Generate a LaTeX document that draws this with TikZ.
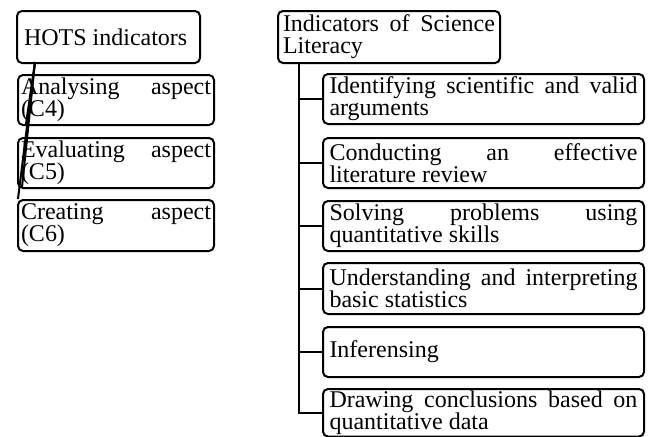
\documentclass[tikz,border=0pt]{standalone}
\usepackage{fontspec}
\setmainfont{Liberation Serif}
\tikzset{
  box/.style={draw, rounded corners=5pt, line width=2pt, anchor=north west,
    inner ysep=0pt, align=justify, font=\fontsize{24}{22}\selectfont},
  rbox/.style={box, inner xsep=5pt, text width=308pt, minimum width=321pt},
  conn/.style={line width=2pt}
}
\begin{document}
\begin{tikzpicture}[x=1pt,y=-1pt]
\useasboundingbox (0,0) rectangle (649,437);
% left side
\node[box, inner xsep=7pt, text width=169pt, minimum height=52pt] (hots) at (16,10) {HOTS indicators};
\node[box, inner xsep=3pt, text width=190pt, minimum height=50pt] (ana) at (17,74) {Analysing aspect\linebreak (C4)};
\node[box, inner xsep=3pt, text width=190pt, minimum height=50pt] (eva) at (17,137) {Evaluating aspect\linebreak (C5)};
\node[box, inner xsep=3pt, text width=190pt, minimum height=51pt] (cre) at (17,199) {Creating aspect\linebreak (C6)};
\coordinate (hroot) at (35,62);
\draw[conn] (hroot) -- (26,124);
\draw[conn] (hroot) -- (22,187);
\draw[conn] (hroot) -- (18,199);
% right side
\node[box, inner xsep=5pt, text width=212pt, minimum height=52pt] (sci) at (277,10) {Indicators of Science\linebreak Literacy};
\node[rbox, minimum height=50pt] (idf) at (322,73) {Identifying scientific and valid\linebreak arguments};
\node[rbox, minimum height=50pt] (con) at (322,137) {Conducting an effective\linebreak literature review};
\node[rbox, minimum height=50pt] (sol) at (322,200) {Solving problems using\linebreak quantitative skills};
\node[rbox, minimum height=51pt] (und) at (322,262) {Understanding and interpreting\linebreak basic statistics};
\node[rbox, minimum height=50pt] (inf) at (322,326) {Inferensing};
\node[rbox, minimum height=47.5pt] (drw) at (322,388) {Drawing conclusions based on\linebreak quantitative data};
\coordinate (trunk) at (299,62);
\draw[conn] (trunk) |- (drw.west);
\foreach \c in {idf,con,sol,und,inf}
  \draw[conn] (trunk |- \c.west) -- (\c.west);
\end{tikzpicture}
\end{document}
